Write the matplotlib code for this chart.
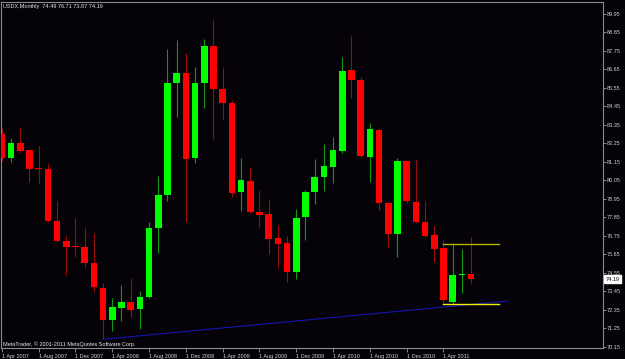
import numpy as np
import matplotlib
matplotlib.use('Agg')
from matplotlib import pyplot as plt
from matplotlib import transforms

plt.rcParams['font.family'] = ['Liberation Sans', 'DejaVu Sans']

# monthly USDX bars, Apr 2007 .. Jul 2011
opens = [82.81, 81.41, 82.26, 81.84, 80.80, 80.73, 77.64, 76.45, 76.14, 76.11,
         75.16, 73.64, 71.76, 72.49, 72.84, 72.39, 73.14, 77.21, 79.19, 85.83,
         86.46, 81.37, 85.86, 88.05, 85.49, 84.68, 79.38, 80.04, 78.16, 78.06,
         76.61, 76.31, 74.63, 77.86, 79.38, 80.24, 80.87, 81.80, 86.62, 86.02,
         81.47, 83.05, 78.69, 76.85, 81.21, 78.75, 77.56, 76.81, 76.02, 72.84,
         74.42, 74.49]
highs = [83.17, 82.58, 83.21, 81.90, 82.10, 81.11, 78.85, 76.81, 77.82, 77.30,
         76.93, 73.94, 73.05, 73.84, 74.23, 73.48, 77.56, 80.33, 87.85, 88.40,
         87.61, 86.82, 88.46, 89.63, 86.82, 84.83, 81.40, 80.83, 79.48, 78.89,
         77.40, 76.75, 78.35, 79.48, 81.31, 82.20, 82.62, 87.37, 88.66, 86.18,
         83.48, 83.15, 78.73, 81.40, 81.27, 81.27, 78.85, 77.34, 76.51, 76.32,
         75.98, 76.71]
lows = [81.21, 81.17, 81.66, 79.98, 79.88, 77.60, 76.40, 74.43, 75.52, 74.86,
        73.44, 70.61, 71.10, 71.71, 71.95, 71.20, 73.05, 75.76, 78.85, 83.84,
        77.56, 81.07, 84.38, 82.52, 83.65, 79.09, 78.24, 78.10, 77.30, 75.68,
        74.83, 74.03, 74.17, 76.51, 78.63, 79.44, 79.92, 81.66, 84.97, 81.37,
        79.98, 78.30, 76.08, 75.52, 78.69, 77.54, 76.71, 75.19, 72.78, 72.71,
        73.36, 73.87]
closes = [81.39, 82.26, 81.82, 80.73, 80.72, 77.64, 76.47, 76.10, 76.10, 75.13,
          73.70, 71.76, 72.51, 72.81, 72.35, 73.10, 77.24, 79.19, 85.83, 86.42,
          81.31, 85.86, 88.05, 85.47, 84.64, 79.33, 80.08, 78.19, 78.02, 76.57,
          76.27, 74.63, 77.80, 79.38, 80.27, 80.93, 81.86, 86.58, 86.02, 81.51,
          83.09, 78.69, 76.85, 81.21, 78.85, 77.60, 76.77, 75.98, 72.94, 74.43,
          74.44, 74.19]

date_ticks = [0, 4, 8, 12, 16, 20, 24, 28, 32, 36, 40, 44, 48]
date_labels = ['1 Apr 2007', '1 Aug 2007', '1 Dec 2007', '1 Apr 2008', '1 Aug 2008',
               '1 Dec 2008', '1 Apr 2009', '1 Aug 2009', '1 Dec 2009', '1 Apr 2010',
               '1 Aug 2010', '1 Dec 2010', '1 Apr 2011']
price_ticks = [70.15 + 1.1 * k for k in range(19)]

# drawn objects
trend_x = [11, 54.9]
trend_y = [70.61, 72.88]
level_x = [48, 54.0]
level_hi = 76.27
level_lo = 72.71

bg = '#050307'
fig = plt.figure(figsize=(6.25, 3.59), dpi=100, facecolor=bg)
ax = fig.add_axes([1.5/625, 1-348/359, 601.5/625, 346/359])
ax.set_facecolor(bg)

x = np.arange(len(opens))
o = np.array(opens); c = np.array(closes)
up = c >= o
body_lo = np.minimum(o, c)
body_h = np.maximum(np.abs(c - o), 0.07)

ax.vlines(x[up], np.array(lows)[up], np.array(highs)[up], color='#119a11', lw=0.8, zorder=2)
ax.vlines(x[~up], np.array(lows)[~up], np.array(highs)[~up], color='#9a0c0c', lw=0.8, zorder=2)
ax.bar(x[up], body_h[up], 0.72, bottom=body_lo[up], color='#00ff00', zorder=3)
ax.bar(x[~up], body_h[~up], 0.72, bottom=body_lo[~up], color='#ff0000', zorder=3)

ax.plot(trend_x, trend_y, color='#1414b4', lw=0.8, zorder=4)
ax.plot(level_x, [level_hi, level_hi], color='#b4b400', lw=1, zorder=4)
ax.plot(level_x, [level_lo, level_lo], color='#f0f000', lw=1, zorder=4)

ax.set_xlim(-0.043, 65.34)
ax.set_ylim(70.09, 90.66)

ax.yaxis.tick_right()
ax.set_yticks(price_ticks)
ax.set_yticklabels(['%.2f' % v for v in price_ticks])
ax.tick_params(axis='y', colors='#9a9a9a', labelcolor='#d0d0d0', labelsize=4,
               length=2, width=0.6, pad=1)
ax.set_xticks(date_ticks)
ax.set_xticklabels(date_labels)
for lab in ax.get_xticklabels():
    lab.set_ha('left')
ax.tick_params(axis='x', colors='#9a9a9a', labelcolor='#d0d0d0', labelsize=4,
               length=3, width=0.6, pad=1.5)
for s in ax.spines.values():
    s.set_color('#8c8c8c')
    s.set_linewidth(0.8)

ax.text(0.003, 0.994, 'USDX,Monthly  74.49 76.71 73.87 74.19', transform=ax.transAxes,
        va='top', ha='left', fontsize=4, color='#e6e6e6')
ax.text(0.0025, 0.011, 'MetaTrader, \u00a9 2001-2011 MetaQuotes Software Corp.',
        transform=ax.transAxes, va='center', ha='left', fontsize=4, color='#e6e6e6')

trans = transforms.blended_transform_factory(ax.transAxes, ax.transData)
ax.text(1.004, closes[-1], '%.2f' % closes[-1], transform=trans, va='center', ha='left',
        fontsize=4, color='black',
        bbox=dict(boxstyle='square,pad=0.2', fc='white', ec='white'), clip_on=False)

fig.savefig('out.png', dpi=100, facecolor=bg)
